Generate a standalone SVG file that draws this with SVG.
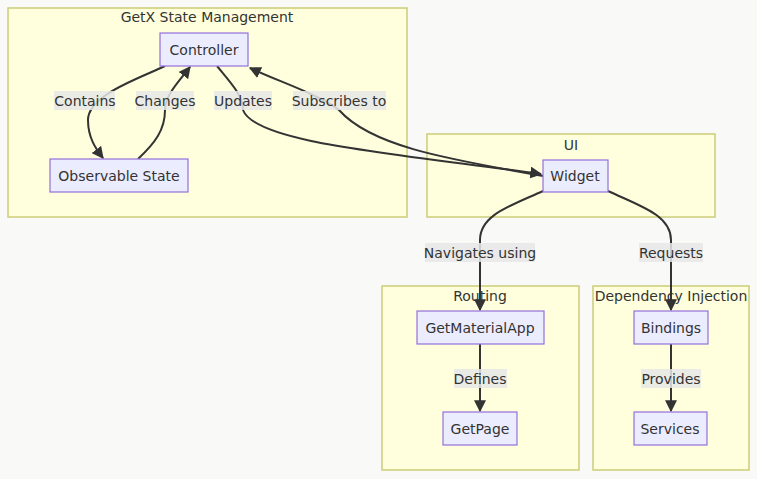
<svg xmlns="http://www.w3.org/2000/svg" width="757" height="479" viewBox="0 0 757 479">
<style>
text{font-family:"DejaVu Sans","Liberation Sans",sans-serif;font-size:14px;fill:#333;text-anchor:middle;dominant-baseline:central}
.cl{fill:#ffffde;stroke:#cccc77;stroke-width:1.5}
.nd{fill:#ececff;stroke:#9370db;stroke-width:1.2}
.ed{fill:none;stroke:#333;stroke-width:2}
.lb{fill:#e8e8e8;opacity:0.85}
</style>
<defs>
<marker id="ah" viewBox="0 0 10 10" refX="9" refY="5" markerWidth="6" markerHeight="6" markerUnits="strokeWidth" orient="auto">
<path d="M0,0 L10,5 L0,10 z" fill="#333"/>
</marker>
</defs>
<rect width="757" height="479" fill="#f9f9f7"/>
<g id="cluster-getx"><rect class="cl" x="8" y="8" width="399" height="209"/><text x="207" y="17">GetX State Management</text></g>
<g id="cluster-ui"><rect class="cl" x="427" y="134" width="288" height="83"/><text x="571" y="145">UI</text></g>
<g id="cluster-routing"><rect class="cl" x="382" y="286" width="197" height="184"/><text x="480" y="296">Routing</text></g>
<g id="cluster-di"><rect class="cl" x="593" y="286" width="156" height="184"/><text x="671" y="296">Dependency Injection</text></g>
<g id="edges">
<path class="ed" marker-end="url(#ah)" d="M165,66 C140,78 88,95 88,120 C88,138 96,149 103,158"/>
<path class="ed" marker-end="url(#ah)" d="M138,159 C155,143 165,130 165,110 C165,95 180,80 190,67"/>
<path class="ed" marker-end="url(#ah)" d="M217,66 C230,82 243,95 243,110 C255,142 380,152 541,174"/>
<path class="ed" marker-end="url(#ah)" d="M543,176 C440,158 370,145 339,110 C320,95 280,82 250,68"/>
<path class="ed" marker-end="url(#ah)" d="M543,191 C510,206 480,215 480,240 L480,310"/>
<path class="ed" marker-end="url(#ah)" d="M608,191 C640,206 671,215 671,240 L671,310"/>
<path class="ed" marker-end="url(#ah)" d="M480,344 L480,411"/>
<path class="ed" marker-end="url(#ah)" d="M671,344 L671,411"/>
<g id="labels">
<rect class="lb" x="54" y="91" width="61" height="19"/><text x="85" y="101">Contains</text>
<rect class="lb" x="136" y="91" width="58" height="19"/><text x="165" y="101">Changes</text>
<rect class="lb" x="214" y="91" width="58" height="19"/><text x="243" y="101">Updates</text>
<rect class="lb" x="293" y="91" width="93" height="19"/><text x="339" y="101">Subscribes to</text>
<rect class="lb" x="425" y="243" width="110" height="19"/><text x="480" y="253">Navigates using</text>
<rect class="lb" x="639" y="243" width="64" height="19"/><text x="671" y="253">Requests</text>
<rect class="lb" x="454" y="369" width="53" height="19"/><text x="480" y="379">Defines</text>
<rect class="lb" x="641" y="369" width="60" height="19"/><text x="671" y="379">Provides</text>
</g>
</g>
<g id="node-controller"><rect class="nd" x="160" y="33" width="88" height="33"/><text x="204" y="50">Controller</text></g>
<g id="node-observable"><rect class="nd" x="50" y="159" width="138" height="33"/><text x="119" y="176">Observable State</text></g>
<g id="node-widget"><rect class="nd" x="543" y="160" width="65" height="32"/><text x="575" y="176">Widget</text></g>
<g id="node-getmaterialapp"><rect class="nd" x="417" y="311" width="127" height="33"/><text x="480" y="328">GetMaterialApp</text></g>
<g id="node-getpage"><rect class="nd" x="443" y="412" width="74" height="33"/><text x="480" y="429">GetPage</text></g>
<g id="node-bindings"><rect class="nd" x="634" y="311" width="74" height="33"/><text x="671" y="328">Bindings</text></g>
<g id="node-services"><rect class="nd" x="634" y="412" width="73" height="33"/><text x="670" y="429">Services</text></g>
</svg>
